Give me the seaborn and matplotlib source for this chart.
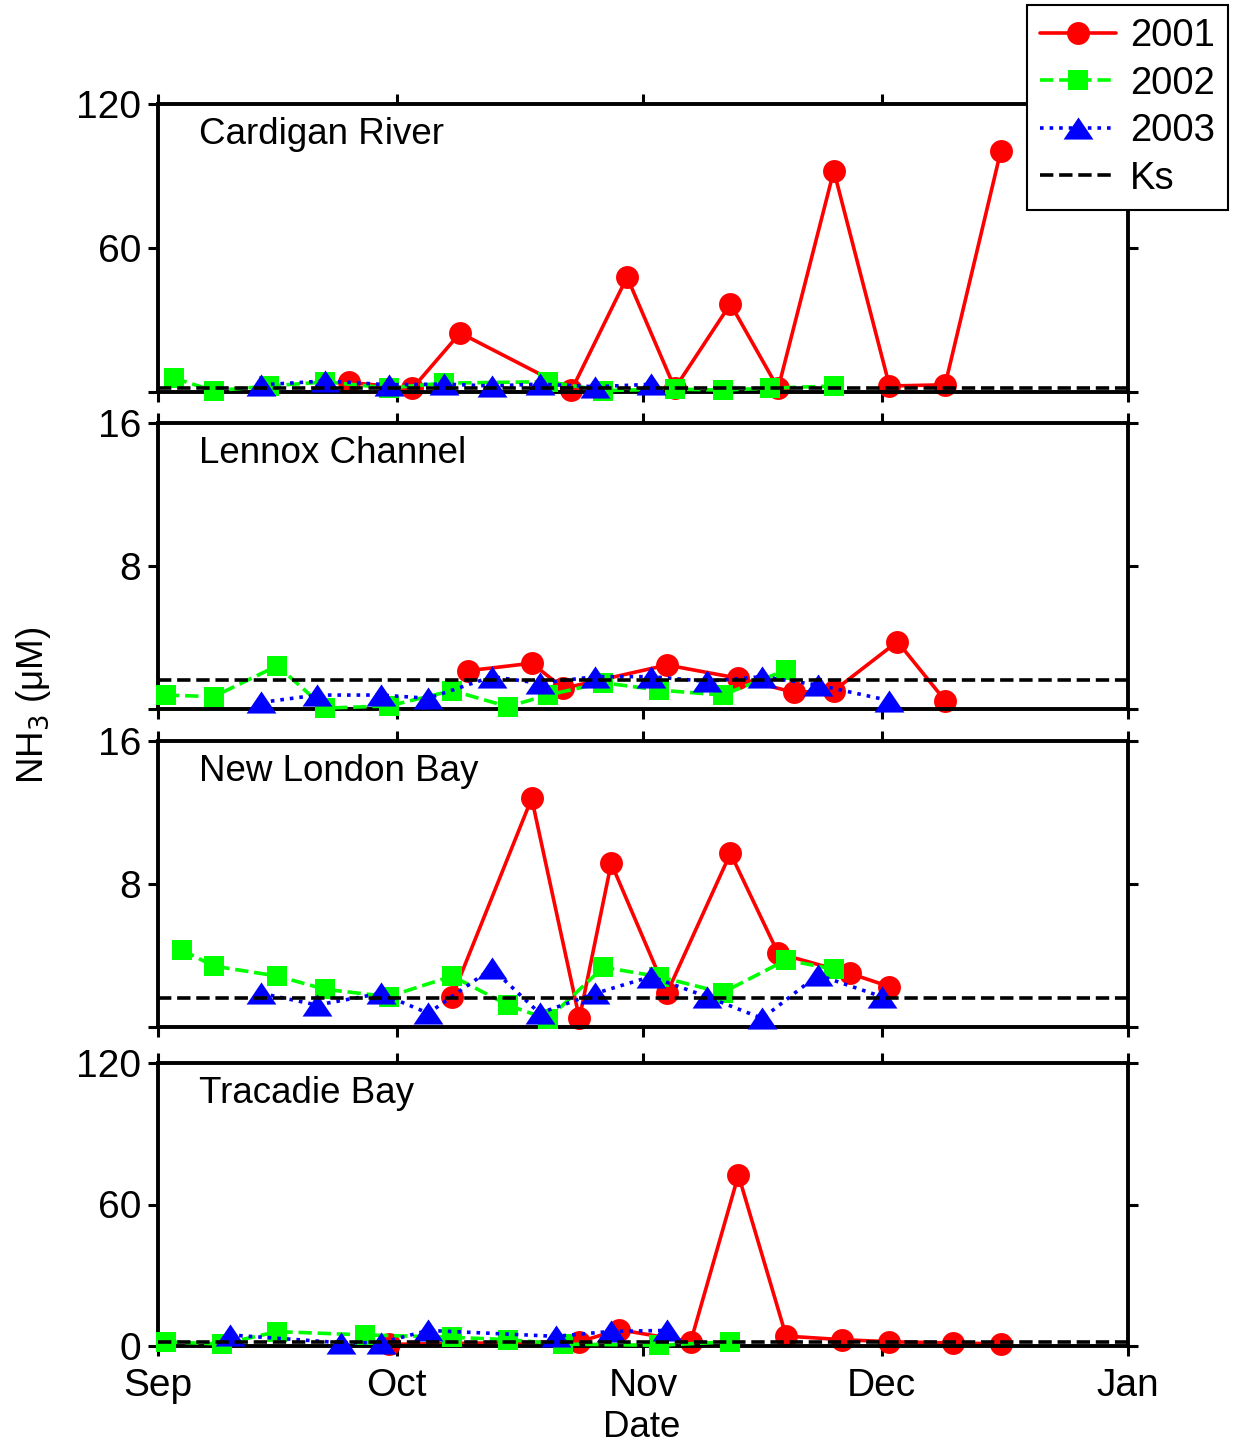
import matplotlib
matplotlib.use("Agg")
import matplotlib.pyplot as plt
import seaborn as sns
import pandas as pd

# ---- data: NH3 (uM) by sampling date (month-day), one season per year ----
SITES = ["Cardigan River", "Lennox Channel", "New London Bay", "Tracadie Bay"]
YEARS = ["2001", "2002", "2003"]

cardigan_2001_dates = ["09-25", "10-03", "10-09", "10-23", "10-30", "11-05", "11-12",
                       "11-18", "11-25", "12-02", "12-09", "12-16"]
cardigan_2001_nh3 = [4.0, 1.5, 24.6, 0.7, 47.9, 1.5, 36.7, 1.5, 92.2, 2.5, 3.0, 100.4]
cardigan_2002_dates = ["09-03", "09-08", "09-15", "09-22", "09-30", "10-07", "10-20",
                       "10-27", "11-05", "11-11", "11-17", "11-25"]
cardigan_2002_nh3 = [5.8, 0.5, 2.5, 4.2, 1.7, 3.7, 4.3, 0.6, 1.2, 0.8, 1.6, 2.5]
cardigan_2003_dates = ["09-14", "09-22", "09-30", "10-07", "10-13", "10-19", "10-26", "11-02"]
cardigan_2003_nh3 = [3.0, 4.6, 3.0, 3.3, 2.5, 3.3, 2.2, 3.2]

lennox_2001_dates = ["10-10", "10-18", "10-22", "11-04", "11-13", "11-20", "11-25",
                     "12-03", "12-09"]
lennox_2001_nh3 = [2.14, 2.56, 1.16, 2.46, 1.72, 0.93, 1.02, 3.77, 0.47]
lennox_2002_dates = ["09-02", "09-08", "09-16", "09-22", "09-30", "10-08", "10-15",
                     "10-20", "10-27", "11-03", "11-11", "11-19"]
lennox_2002_nh3 = [0.78, 0.69, 2.42, 0.05, 0.17, 1.03, 0.13, 0.78, 1.47, 1.06, 0.78, 2.18]
lennox_2003_dates = ["09-14", "09-21", "09-29", "10-05", "10-13", "10-19", "10-26",
                     "11-02", "11-09", "11-16", "11-23", "12-02"]
lennox_2003_nh3 = [0.37, 0.78, 0.78, 0.6, 1.81, 1.44, 1.81, 1.81, 1.55, 1.81, 1.34, 0.47]

newlondon_2001_dates = ["10-08", "10-18", "10-24", "10-28", "11-04", "11-12", "11-18",
                        "11-27", "12-02"]
newlondon_2001_nh3 = [1.7, 12.79, 0.48, 9.16, 1.88, 9.72, 4.12, 3.0, 2.26]
newlondon_2002_dates = ["09-04", "09-08", "09-16", "09-22", "09-30", "10-08", "10-15",
                        "10-20", "10-27", "11-03", "11-11", "11-19", "11-25"]
newlondon_2002_nh3 = [4.31, 3.41, 2.85, 2.11, 1.7, 2.85, 1.23, 0.43, 3.34, 2.82, 1.92, 3.75, 3.23]
newlondon_2003_dates = ["09-14", "09-21", "09-29", "10-05", "10-13", "10-19", "10-26",
                        "11-02", "11-09", "11-16", "11-23", "12-01"]
newlondon_2003_nh3 = [1.88, 1.23, 1.88, 0.77, 3.28, 0.77, 1.88, 2.82, 1.7, 0.48, 2.91, 1.7]

tracadie_2001_dates = ["09-30", "10-24", "10-29", "11-07", "11-13", "11-19", "11-26",
                       "12-02", "12-10", "12-16"]
tracadie_2001_nh3 = [0.7, 1.8, 6.9, 1.8, 72.5, 4.2, 2.7, 1.8, 1.3, 0.9]
tracadie_2002_dates = ["09-02", "09-09", "09-16", "09-27", "10-08", "10-15", "10-22",
                       "11-03", "11-12"]
tracadie_2002_nh3 = [1.8, 0.8, 6.1, 4.7, 3.7, 2.7, 0.8, 0.3, 1.8]
tracadie_2003_dates = ["09-10", "09-24", "09-29", "10-05", "10-21", "10-28", "11-04"]
tracadie_2003_nh3 = [4.7, 1.4, 1.4, 6.6, 4.1, 6.2, 6.6]

KS = 1.6  # half-saturation constant, uM

Y_LIMITS = [120, 16, 16, 120]
Y_TICKS = [[0, 60, 120], [0, 8, 16], [0, 8, 16], [0, 60, 120]]
MONTH_TICKS = ["2001-09-01", "2001-10-01", "2001-11-01", "2001-12-01", "2002-01-01"]
MONTH_LABELS = ["Sep", "Oct", "Nov", "Dec", "Jan"]

site_series = {
    "Cardigan River": [(cardigan_2001_dates, cardigan_2001_nh3),
                       (cardigan_2002_dates, cardigan_2002_nh3),
                       (cardigan_2003_dates, cardigan_2003_nh3)],
    "Lennox Channel": [(lennox_2001_dates, lennox_2001_nh3),
                       (lennox_2002_dates, lennox_2002_nh3),
                       (lennox_2003_dates, lennox_2003_nh3)],
    "New London Bay": [(newlondon_2001_dates, newlondon_2001_nh3),
                       (newlondon_2002_dates, newlondon_2002_nh3),
                       (newlondon_2003_dates, newlondon_2003_nh3)],
    "Tracadie Bay": [(tracadie_2001_dates, tracadie_2001_nh3),
                     (tracadie_2002_dates, tracadie_2002_nh3),
                     (tracadie_2003_dates, tracadie_2003_nh3)],
}

# ---- styles ----
TRIANGLE = [(0, 1), (-1.35, -1), (1.35, -1), (0, 1)]
year_style = {
    "2001": dict(color="#ff0000", marker="o", linestyle="-", markersize=16.5),
    "2002": dict(color="#00ff00", marker="s", linestyle="--", markersize=14.5),
    "2003": dict(color="#0000ff", marker=TRIANGLE, linestyle=":", markersize=21.5),
}

sns.set_style("ticks")
plt.rcParams["font.family"] = ["Liberation Sans", "DejaVu Sans"]
plt.rcParams["axes.linewidth"] = 2.8
for key in ("text.color", "axes.labelcolor", "xtick.color", "ytick.color",
            "axes.edgecolor"):
    plt.rcParams[key] = "black"

TICK_FS = 28
LABEL_FS = 26.5
LEGEND_FS = 27.5
fig = plt.figure(figsize=(12.33, 14.48), dpi=100)

left, width = 158 / 1233, 970 / 1233
panel_px = [(104, 392), (423, 709), (741, 1027), (1063, 1346)]

xmin = pd.Timestamp(MONTH_TICKS[0])
xmax = pd.Timestamp(MONTH_TICKS[-1])
month_pos = pd.to_datetime(MONTH_TICKS)

axes = []
for i, site in enumerate(SITES):
    top_px, bot_px = panel_px[i]
    ax = fig.add_axes([left, 1 - bot_px / 1448, width, (bot_px - top_px) / 1448])
    axes.append(ax)
    for z, (year, (dates, vals)) in enumerate(zip(YEARS, site_series[site])):
        st = year_style[year]
        df = pd.DataFrame({"date": pd.to_datetime(["2001-" + d for d in dates]),
                           "nh3": vals})
        sns.lineplot(data=df, x="date", y="nh3", ax=ax, estimator=None, legend=False,
                     color=st["color"], linestyle=st["linestyle"], linewidth=2.6,
                     marker=st["marker"], markersize=st["markersize"],
                     markeredgecolor=st["color"], markerfacecolor=st["color"],
                     markeredgewidth=0, label=year, clip_on=False, zorder=2 + z)
    ax.axhline(KS, color="black", linestyle="--", linewidth=2.6, zorder=6, label="Ks")

    ax.set_xlim(xmin, xmax)
    ax.set_ylim(0, Y_LIMITS[i])
    ax.set_xticks(month_pos)
    ax.set_yticks(Y_TICKS[i])
    if i == len(SITES) - 1:
        ax.set_xticklabels(MONTH_LABELS)
        ax.set_yticklabels([str(t) for t in Y_TICKS[i]])
    else:
        ax.set_xticklabels([])
        ax.set_yticklabels([""] + [str(t) for t in Y_TICKS[i][1:]])
    ax.set_xlabel("")
    ax.set_ylabel("")
    ax.tick_params(axis="both", which="major", direction="out", length=7, width=2.2,
                   labelsize=TICK_FS, pad=5, top=True, right=True,
                   color="black", labelcolor="black")
    ax.tick_params(axis="x", pad=9)
    for sp in ax.spines.values():
        sp.set_visible(True)
        sp.set_color("black")
        sp.set_linewidth(2.8)
    ax.text(0.042, 0.893, site, transform=ax.transAxes, fontsize=LABEL_FS,
            ha="left", va="center", color="black")

fig.text(0.027, 0.513, "NH$_3$ (\u03bcM)", rotation=90, fontsize=LABEL_FS,
         ha="center", va="center", color="black")
fig.text(642 / 1233, 0.0145, "Date", fontsize=LABEL_FS, ha="center", va="center",
         color="black")

handles, labels = axes[0].get_legend_handles_labels()
leg = fig.legend(handles, labels, loc="upper right",
                 bbox_to_anchor=(1228 / 1233, 1 - 5 / 1448), fontsize=LEGEND_FS,
                 frameon=True, fancybox=False, edgecolor="black", framealpha=1,
                 borderpad=0.35, handlelength=2.0, handletextpad=0.35,
                 labelspacing=0.3, borderaxespad=0)
leg.get_frame().set_linewidth(1.5)
for t in leg.get_texts():
    t.set_color("black")

fig.savefig("out.png", dpi=100)
